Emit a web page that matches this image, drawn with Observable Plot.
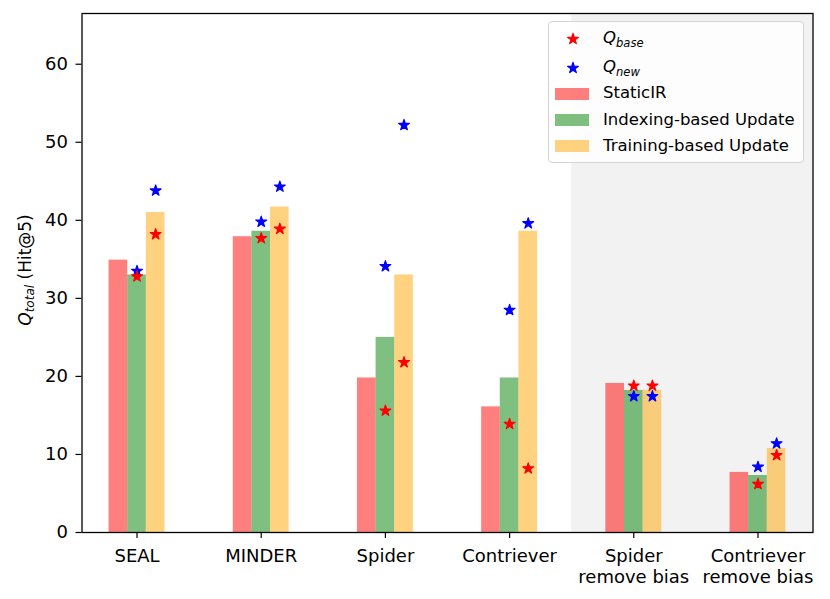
<!DOCTYPE html>
<html>
<head>
<meta charset="utf-8">
<script src="https://cdn.jsdelivr.net/npm/d3@7"></script>
<script src="https://cdn.jsdelivr.net/npm/@observablehq/plot@0.6"></script>
<style>
  body { margin: 0; background: #fff; font-family: "DejaVu Sans", sans-serif; }
  #wrap { position: relative; width: 830px; height: 599px; }
  .legend { position: absolute; left: 548px; top: 21px; width: 256px; height: 142px; box-sizing: border-box;
            border: 1px solid #d4d4d4; border-radius: 4px; background: rgba(255,255,255,0.8);
            font-family: "DejaVu Sans", sans-serif; font-size: 16.5px; color: #000; }
  .row { position: absolute; left: 0; height: 0; }
  .row .patch { position: absolute; left: 6px; width: 34px; height: 12px; top: -6px; }
  .row .lab { position: absolute; left: 54px; top: -0.62em; white-space: nowrap; line-height: 1.2; }
  .row svg { position: absolute; top: -8px; }
  .lab sub { font-size: 70%; vertical-align: -0.35em; line-height: 0; }
</style>
</head>
<body>
<div id="wrap"></div>
<script>
// ---- data ----
const categories = ["SEAL", "MINDER", "Spider", "Contriever", "Spider\nremove bias", "Contriever\nremove bias"];
const staticIR       = [34.9, 37.9, 19.8, 16.1, 19.1, 7.7];
const indexingUpdate = [33.0, 38.6, 25.0, 19.8, 18.2, 7.3];
const trainingUpdate = [41.0, 41.7, 33.0, 38.6, 18.2, 10.75];
const qBaseIndexing  = [32.8, 37.7, 15.6, 13.9, 18.8, 6.2];
const qNewIndexing   = [33.5, 39.8, 34.1, 28.5, 17.45, 8.4];
const qBaseTraining  = [38.2, 38.9, 21.8, 8.2, 18.8, 9.9];
const qNewTraining   = [43.8, 44.3, 52.2, 39.6, 17.45, 11.4];
const seriesNames  = ["StaticIR", "Indexing-based Update", "Training-based Update"];
const seriesColors = ["red", "green", "orange"];
const yTicks = [0, 10, 20, 30, 40, 50, 60];
const shadedFromCategory = 3.5;

// ---- layout ----
const xDomain = [-0.443, 5.443];
const yDomain = [0, 66.5];
const barWidth = 0.15;
const barOffsets = [-0.15, 0, 0.15];

const bars = [];
[staticIR, indexingUpdate, trainingUpdate].forEach((arr, k) =>
  arr.forEach((v, i) => bars.push({ i, k, series: seriesNames[k], value: v })));

const stars = (arr, k, kind) => arr.map((v, i) => ({ i, k, kind, value: v }));
const baseStars = [...stars(qBaseIndexing, 1, "base"), ...stars(qBaseTraining, 2, "base")];
const newStars  = [...stars(qNewIndexing, 1, "new"), ...stars(qNewTraining, 2, "new")];

const starR = 3.4;

const chart = Plot.plot({
  width: 830,
  height: 599,
  marginLeft: 81.5,
  marginRight: 17.5,
  marginTop: 13,
  marginBottom: 67,
  style: { fontFamily: "DejaVu Sans, sans-serif", fontSize: "18px", color: "black", background: "white" },
  x: { domain: xDomain, axis: null },
  y: { domain: yDomain, axis: null },
  color: { domain: seriesNames, range: seriesColors },
  marks: [
    Plot.rect([{ from: shadedFromCategory, to: xDomain[1] }], {
      x1: "from", x2: "to", y1: yDomain[0], y2: yDomain[1], fill: "gray", fillOpacity: 0.1
    }),
    Plot.rect(bars, {
      x1: d => d.i + barOffsets[d.k] - barWidth / 2,
      x2: d => d.i + barOffsets[d.k] + barWidth / 2,
      y1: 0, y2: "value", fill: "series", fillOpacity: 0.5
    }),
    Plot.dot(newStars, { x: d => d.i + barOffsets[d.k], y: "value", symbol: "star", r: starR, fill: "blue", stroke: "blue", strokeWidth: 1.2, strokeLinejoin: "round" }),
    Plot.dot(baseStars, { x: d => d.i + barOffsets[d.k], y: "value", symbol: "star", r: starR, fill: "red", stroke: "red", strokeWidth: 1.2, strokeLinejoin: "round" }),
    Plot.axisY({ ticks: yTicks, tickSize: 6, tickPadding: 8, fontSize: 18, strokeWidth: 1.2, label: null }),
    Plot.axisX({ ticks: categories.map((c, i) => i), tickFormat: i => categories[i], tickSize: 6, tickPadding: 8,
                 fontSize: 18, lineHeight: 1.2, strokeWidth: 1.2, label: null }),
    Plot.frame({ stroke: "black", strokeWidth: 1.3 })
  ]
});

// y-axis label with italic subscript
const svg = d3.select(chart);
const yl = svg.append("text")
  .attr("transform", "translate(31,270) rotate(-90)")
  .attr("text-anchor", "middle")
  .attr("font-family", "DejaVu Sans, sans-serif")
  .attr("font-size", 17)
  .attr("fill", "black");
yl.append("tspan").attr("font-style", "italic").text("Q");
yl.append("tspan").attr("font-style", "italic").attr("font-size", 12).attr("dy", 3).text("total");
yl.append("tspan").attr("dy", -3).text(" (Hit@5)");

const wrap = document.getElementById("wrap");
wrap.appendChild(chart);

// legend
const starPath = d3.symbol(d3.symbolStar, Math.PI * starR * starR)();
const legend = document.createElement("div");
legend.className = "legend";
const rowsY = [16.5, 45.5, 71.5, 98, 124];
const entries = [
  { type: "star", color: "red", html: "<i>Q</i><sub><i>base</i></sub>" },
  { type: "star", color: "blue", html: "<i>Q</i><sub><i>new</i></sub>" },
  ...seriesNames.map((s, k) => ({ type: "patch", color: seriesColors[k], html: s }))
];
entries.forEach((e, j) => {
  const row = document.createElement("div");
  row.className = "row";
  row.style.top = rowsY[j] + "px";
  if (e.type === "star") {
    row.innerHTML = `<svg width="16" height="16" viewBox="-8 -8 16 16" style="left:15.5px"><path d="${starPath}" fill="${e.color}" stroke="${e.color}" stroke-width="1.2" stroke-linejoin="round"/></svg>`;
  } else {
    row.innerHTML = `<div class="patch" style="background:${e.color};opacity:0.5"></div>`;
  }
  const lab = document.createElement("div");
  lab.className = "lab";
  lab.innerHTML = e.html;
  row.appendChild(lab);
  legend.appendChild(row);
});
wrap.appendChild(legend);
</script>
</body>
</html>
